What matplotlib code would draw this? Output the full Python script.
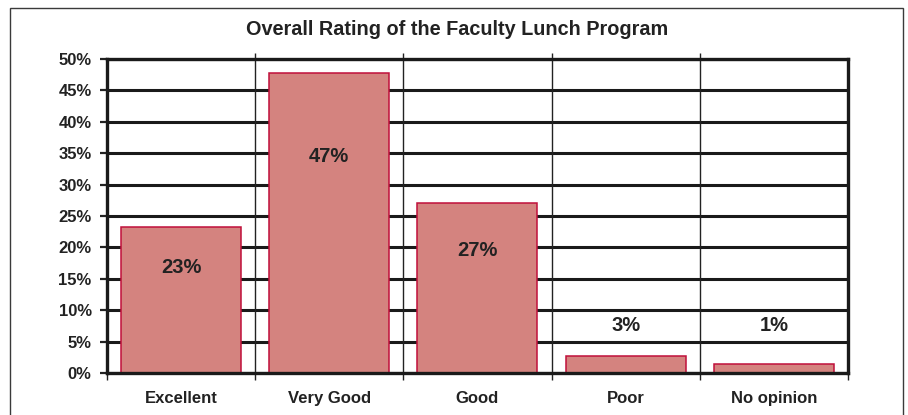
import matplotlib
matplotlib.use("Agg")
import numpy as np
from matplotlib import pyplot as plt
from matplotlib.patches import Rectangle

# data
categories = ["Excellent", "Very Good", "Good", "Poor", "No opinion"]
shares = [23.3, 47.8, 27.1, 2.7, 1.4]
share_labels = ["23%", "47%", "27%", "3%", "1%"]
y_ticks = [0, 5, 10, 15, 20, 25, 30, 35, 40, 45, 50]

plt.rcParams['font.family'] = ['Liberation Sans', 'DejaVu Sans']
plt.rcParams['font.weight'] = 'bold'

fig = plt.figure(figsize=(9.08, 4.15), dpi=100)
# outer frame of the chart box
fig.patches.append(Rectangle((0.011, -0.05), 0.983, 1.03, transform=fig.transFigure,
                             fill=False, edgecolor='#3a3a3a', linewidth=1.0))

ax = fig.add_axes([0.1178, 0.101, 0.816, 0.757])
x = np.arange(len(categories))

ax.bar(x, shares, width=0.81, color='#d4837f', edgecolor='#c0103a', linewidth=1.1, zorder=3)

# value labels: inside tall bars, above short ones
for xi, v, lab in zip(x, shares, share_labels):
    ypos = v * 0.72 if v > 10 else 7.6
    ax.text(xi, ypos, lab, ha='center', va='center', fontsize=14.5,
            fontweight='bold', color='#222222', zorder=4)

ax.set_xlim(-0.5, len(categories) - 0.5)
ax.set_ylim(0, 50)

ax.set_yticks(y_ticks)
ax.set_yticklabels([f"{t}%" for t in y_ticks], fontsize=12, fontweight='bold', color='#222222')
ax.tick_params(axis='y', length=5, width=1.6, pad=6, color='#222222')

ax.set_xticks(x)
ax.set_xticklabels(categories, fontsize=12, fontweight='bold', color='#222222')
ax.tick_params(axis='x', which='major', length=0, pad=13)
ax.set_xticks(np.arange(-0.5, len(categories)), minor=True)
ax.tick_params(axis='x', which='minor', length=5, width=1.0, color='#222222')

# category separators run slightly above the plot
ax.vlines(np.arange(0.5, len(categories) - 1), 0, 1.02, transform=ax.get_xaxis_transform(),
          colors='#222222', linewidth=1.0, clip_on=False, zorder=1)

ax.yaxis.grid(True, color='#1a1a1a', linewidth=2.2, zorder=0)
ax.set_axisbelow(True)
for s in ax.spines.values():
    s.set_linewidth(2.4)
    s.set_color('#1a1a1a')
    s.set_zorder(5)

fig.text(0.503, 0.928, "Overall Rating of the Faculty Lunch Program", ha='center', va='center',
         fontsize=14.3, fontweight='bold', color='#222222')

fig.savefig("out.png", dpi=100)
